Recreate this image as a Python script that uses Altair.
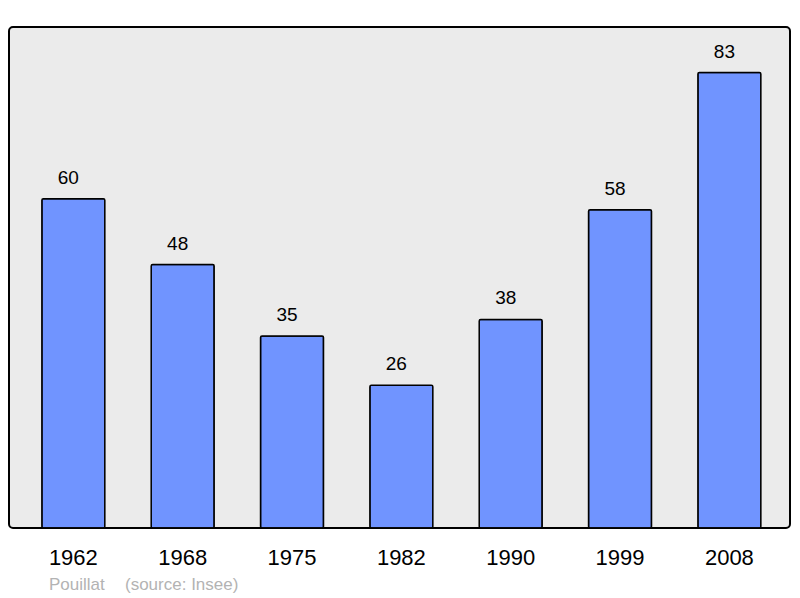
import altair as alt
import pandas as pd

years = ["1962", "1968", "1975", "1982", "1990", "1999", "2008"]
population = [60, 48, 35, 26, 38, 58, 83]
footer_name = "Pouillat"
footer_source = "(source: Insee)"

df = pd.DataFrame({"year": years, "pop": population})

x = alt.X("year:N", sort=years, title=None,
          scale=alt.Scale(paddingInner=0.424, paddingOuter=0.2835, align=0.53),
          axis=alt.Axis(labelAngle=0, ticks=False, domain=False, grid=False,
                        labelFontSize=22, labelColor="#000000", labelPadding=19,
                        labelFont="Liberation Sans"))
y = alt.Y("pop:Q", title=None, scale=alt.Scale(domain=[0, 91.3], nice=False, zero=True),
          axis=None)

bars = alt.Chart(df).mark_bar(color="#7094ff", stroke="#000000", strokeWidth=1.5,
                              cornerRadius=1.5).encode(x=x, y=y)

labels = alt.Chart(df).mark_text(fontSize=19, font="Liberation Sans", color="#000000",
                                 baseline="alphabetic", dy=-15, dx=-5).encode(
    x=x, y=y, text="pop:Q")

foot1 = alt.Chart(pd.DataFrame({"t": [footer_name]})).mark_text(
    fontSize=17, font="Liberation Sans", color="#b3b3b3", align="left",
    baseline="alphabetic").encode(x=alt.value(40), y=alt.value(563), text="t:N")
foot2 = alt.Chart(pd.DataFrame({"t": [footer_source]})).mark_text(
    fontSize=17, font="Liberation Sans", color="#b3b3b3", align="left",
    baseline="alphabetic").encode(x=alt.value(116), y=alt.value(563), text="t:N")

chart = alt.layer(bars, labels, foot1, foot2).properties(
    width=781, height=501,
    autosize=alt.AutoSizeParams(type="none"),
    padding={"left": 1, "top": 19, "right": 2, "bottom": 68},
).configure(
    background="#ffffff",
    view=alt.ViewConfig(fill="#ebebeb", stroke="#000000", strokeWidth=2, cornerRadius=4),
)

chart.save("out.html", embed_options={"renderer": "svg", "actions": False})
